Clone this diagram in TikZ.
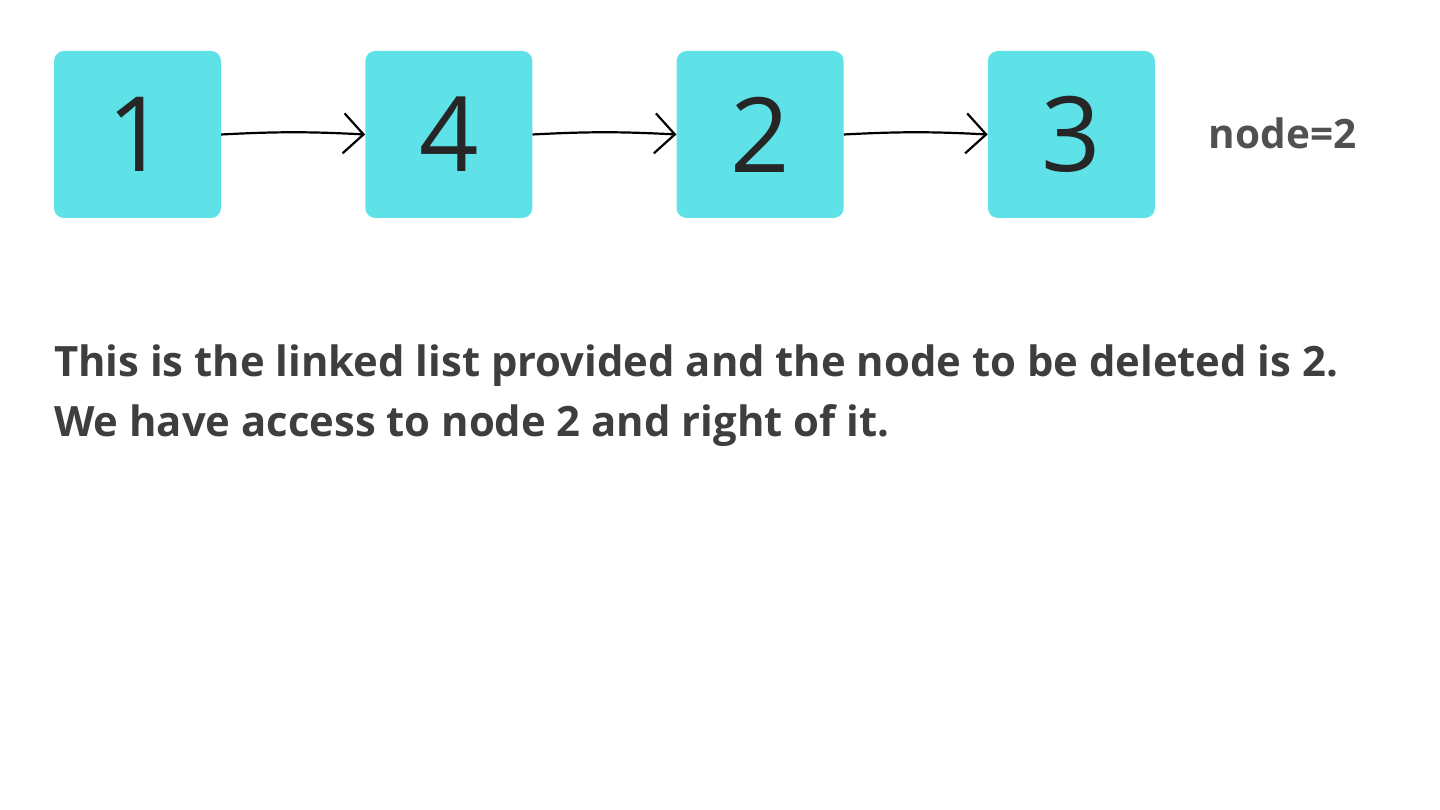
\documentclass[tikz,border=0pt]{standalone}
\usepackage{xcolor}
\usepackage{fontspec}
\setmainfont{Open Sans}
\usepackage{tikz}
\usetikzlibrary{arrows.meta, positioning}
\definecolor{listcyan}{HTML}{5FE2E7}
\definecolor{textgrey}{HTML}{3E3E3E}
\tikzstyle{listnode} = [rectangle, rounded corners=10pt, minimum width=167pt, minimum height=167pt, inner sep=0pt, fill=listcyan, text=black!85, font=\fontsize{104}{104}\selectfont]
\tikzstyle{arrow} = [line width=2.2pt, -{Straight Barb[length=20pt,width=40pt,line width=2.2pt]}]
\tikzstyle{caption} = [inner sep=0pt, text=textgrey, font=\fontsize{41.8}{41.8}\selectfont\bfseries]

\begin{document}
\begin{tikzpicture}[x=1pt, y=1pt, node distance=311.3pt]

\useasboundingbox (0,0) rectangle (1440,810);

\node (one) [listnode] at (137.5,675.5) {1};
\node (four) [listnode, right of=one] {4};
\node (two) [listnode, right of=four] {2};
\node (three) [listnode, right of=two] {3};
\node (target) [caption, font=\fontsize{40.5}{40.5}\selectfont\bfseries, text=textgrey!90] at (1282.5,677) {node=2};

\draw [arrow] (one.east) to[bend left=3] (four.west);
\draw [arrow] (four.east) to[bend left=3] (two.west);
\draw [arrow] (two.east) to[bend left=3] (three.west);

\node (lineone) [caption, anchor=base west] at (54,433) {This is the linked list provided and the node to be deleted is 2.};
\node (linetwo) [caption, anchor=base west] at ([yshift=-60pt]lineone.base west) {We have access to node 2 and right of it.};

\end{tikzpicture}
\end{document}
